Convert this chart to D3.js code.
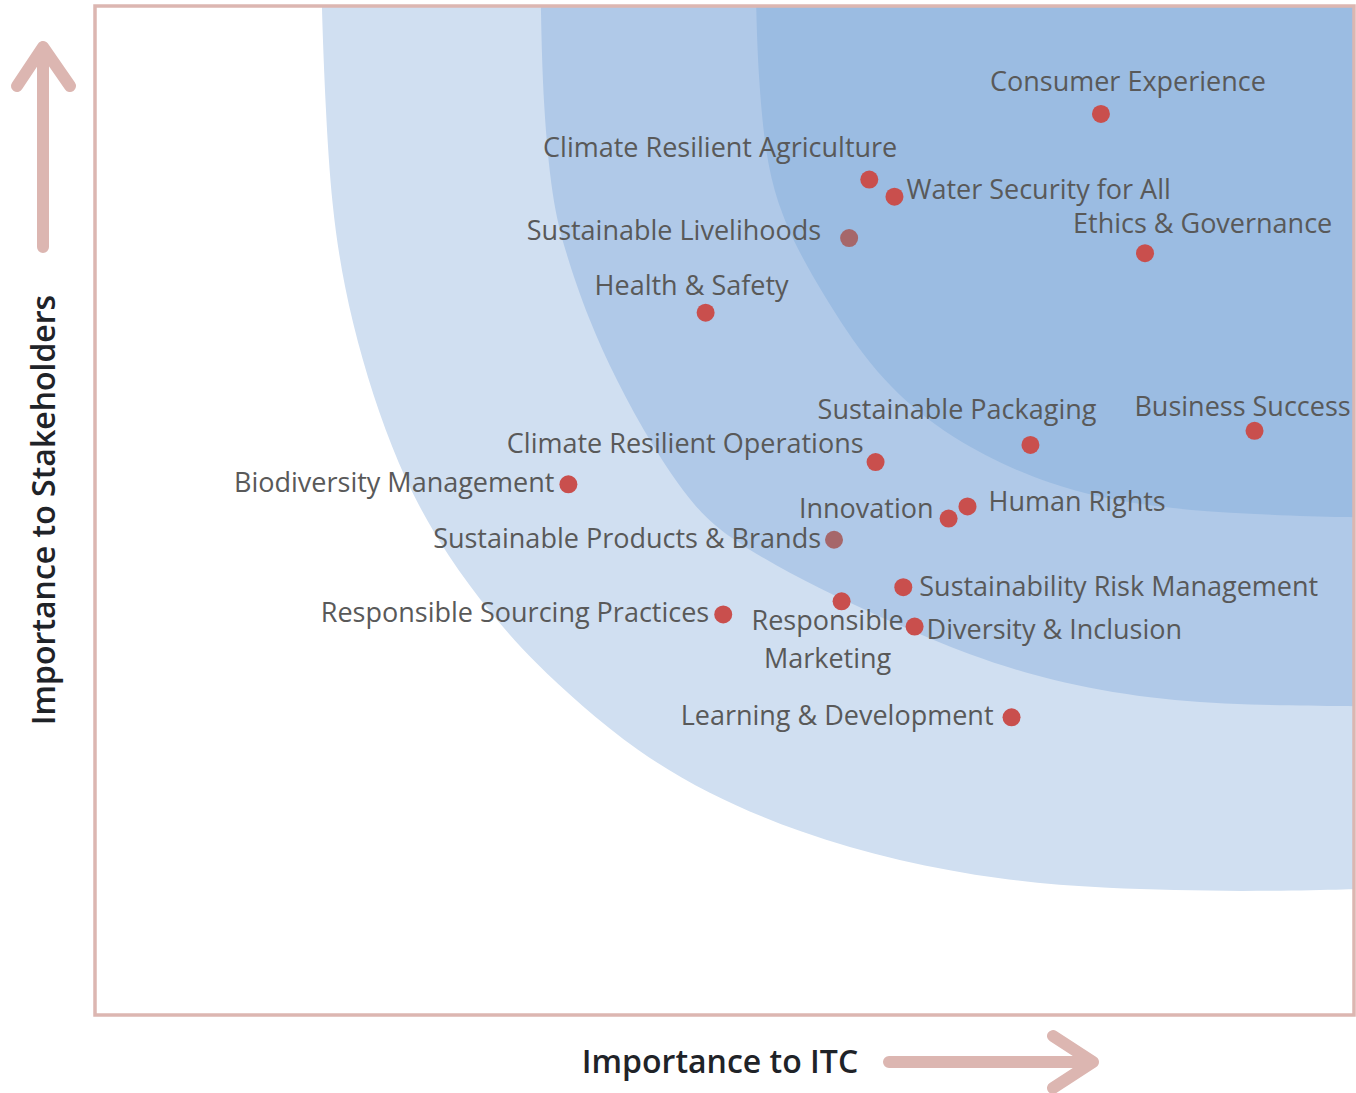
<!DOCTYPE html>
<html lang="en">
<head>
<meta charset="UTF-8">
<title>Materiality Matrix</title>
<script src="https://cdn.jsdelivr.net/npm/d3@7"></script>
<style>
  body { margin: 0; background: #fff; }
  g.labels text { font-family: "Open Sans", sans-serif; font-size: 27px; fill: #595959; }
  text.axis-title { font-family: "Open Sans", sans-serif; font-size: 32px; font-weight: 600; fill: #1f2328; }
</style>
</head>
<body>
<script>
// topics and their scores (0-10) on both axes
var topics = [
  "Consumer Experience", "Climate Resilient Agriculture", "Water Security for All",
  "Sustainable Livelihoods", "Ethics & Governance", "Health & Safety",
  "Sustainable Packaging", "Business Success", "Climate Resilient Operations",
  "Biodiversity Management", "Innovation", "Human Rights",
  "Sustainable Products & Brands", "Sustainability Risk Management",
  "Responsible Sourcing Practices", "Responsible\nMarketing",
  "Diversity & Inclusion", "Learning & Development"
];
var itcScore = [7.99, 6.15, 6.35, 5.99, 8.34, 4.85, 7.43, 9.21, 6.20, 3.76, 6.78, 6.93, 5.87, 6.42, 4.99, 5.93, 6.51, 7.28];
var stakeholderScore = [8.93, 8.28, 8.11, 7.70, 7.55, 6.96, 5.65, 5.79, 5.48, 5.26, 4.92, 5.04, 4.71, 4.24, 3.97, 4.10, 3.85, 2.95];
var muted = [false, false, false, true, false, false, false, false, false, false, false, false, true, false, false, false, false, false];

// priority zone edges, [itc, stakeholder]
var zoneLow = [[1.80,10],[1.83,9.0],[1.88,8.0],[1.98,7.2],[2.12,6.5],[2.30,5.8],[2.52,5.15],[2.80,4.55],[3.14,3.98],[3.50,3.48],[3.86,3.07],[4.30,2.62],[4.85,2.20],[5.60,1.80],[6.39,1.52],[7.19,1.34],[7.98,1.25],[9.17,1.22],[10,1.25]];
var zoneMid = [[3.54,10],[3.56,9.0],[3.63,8.08],[3.73,7.58],[3.92,6.89],[4.14,6.29],[4.42,5.65],[4.76,5.02],[5.05,4.72],[5.40,4.46],[5.86,4.16],[6.39,3.86],[6.93,3.57],[7.59,3.31],[8.38,3.13],[9.17,3.07],[10,3.06]];
var zoneHigh = [[5.25,10],[5.27,9.27],[5.33,8.47],[5.44,7.98],[5.58,7.58],[5.88,6.94],[6.24,6.29],[6.79,5.70],[7.59,5.23],[8.38,5.03],[9.17,4.96],[10,4.93]];
var zoneColors = ["#d0dff1", "#b0c9e8", "#9bbce2"];

// label placement next to each dot: anchor, dx, dy (px)
var labelLayout = [
  ["middle", 27, -23], ["end", 28, -23], ["start", 12, 2],
  ["end", -28, 2], ["start", -72, -20], ["middle", -14, -18],
  ["end", 66, -26], ["middle", -12, -15], ["end", -12, -9],
  ["end", -14, 8], ["end", -15, -1], ["start", 21, 5],
  ["end", -13, 8], ["start", 16, 9],
  ["end", -14, 8], ["middle", -14, 29],
  ["start", 12, 12], ["end", -18, 8]
];

var width = 1356, height = 1093;
var x = d3.scaleLinear().domain([0, 10]).range([95, 1354]);
var y = d3.scaleLinear().domain([0, 10]).range([1015, 6]);

var svg = d3.select("body").append("svg").attr("width", width).attr("height", height);

svg.append("clipPath").attr("id", "plot")
  .append("rect")
    .attr("x", x(0)).attr("y", y(10))
    .attr("width", x(10) - x(0)).attr("height", y(0) - y(10));

var edge = d3.line().x(function(d){ return x(d[0]); }).y(function(d){ return y(d[1]); })
  .curve(d3.curveBasis);

function zonePath(pts) {
  var last = pts[pts.length - 1], first = pts[0];
  // extend the edge past the frame so the clip gives clean corners
  var ext = [[first[0], 10.3]].concat(pts, [[10.3, last[1]]]);
  return edge(ext) + "L" + x(10.3) + "," + y(10.3) + "Z";
}

svg.append("g").attr("class", "zones").attr("clip-path", "url(#plot)")
  .selectAll("path")
  .data([zoneLow, zoneMid, zoneHigh])
  .enter().append("path")
    .attr("d", zonePath)
    .attr("fill", function(d, i){ return zoneColors[i]; });

// frame
svg.append("rect")
  .attr("x", x(0)).attr("y", y(10))
  .attr("width", x(10) - x(0)).attr("height", y(0) - y(10))
  .attr("fill", "none").attr("stroke", "#dcb6b1").attr("stroke-width", 3.5);

var idx = d3.range(topics.length);

svg.append("g").attr("class", "dots")
  .selectAll("circle")
  .data(idx)
  .enter().append("circle")
    .attr("cx", function(i){ return x(itcScore[i]); })
    .attr("cy", function(i){ return y(stakeholderScore[i]); })
    .attr("r", 9)
    .attr("fill", function(i){ return muted[i] ? "#a6676a" : "#c94f4d"; });

var labels = svg.append("g").attr("class", "labels")
  .selectAll("text")
  .data(idx)
  .enter().append("text")
    .attr("text-anchor", function(i){ return labelLayout[i][0]; })
    .attr("x", function(i){ return x(itcScore[i]) + labelLayout[i][1]; })
    .attr("y", function(i){ return y(stakeholderScore[i]) + labelLayout[i][2]; });

labels.each(function(i) {
  var t = d3.select(this), px = x(itcScore[i]) + labelLayout[i][1];
  topics[i].split("\n").forEach(function(line, k) {
    t.append("tspan").attr("x", px).attr("dy", k === 0 ? 0 : 38).text(line);
  });
});

// axis titles with arrows
svg.append("text").attr("class", "axis-title")
  .attr("text-anchor", "middle")
  .attr("transform", "translate(55,510) rotate(-90)")
  .text("Importance to Stakeholders");

svg.append("text").attr("class", "axis-title")
  .attr("text-anchor", "middle")
  .attr("x", 720).attr("y", 1073)
  .text("Importance to ITC");

var arrows = svg.append("g").attr("class", "arrows")
  .attr("fill", "none").attr("stroke", "#dcb6b1").attr("stroke-width", 12)
  .attr("stroke-linecap", "round").attr("stroke-linejoin", "round");

arrows.append("path").attr("d", "M43,247L43,47M17,86L43,47L70,86");
arrows.append("path").attr("d", "M889,1062L1093,1062M1053,1036L1093,1062L1053,1088");
</script>
</body>
</html>
